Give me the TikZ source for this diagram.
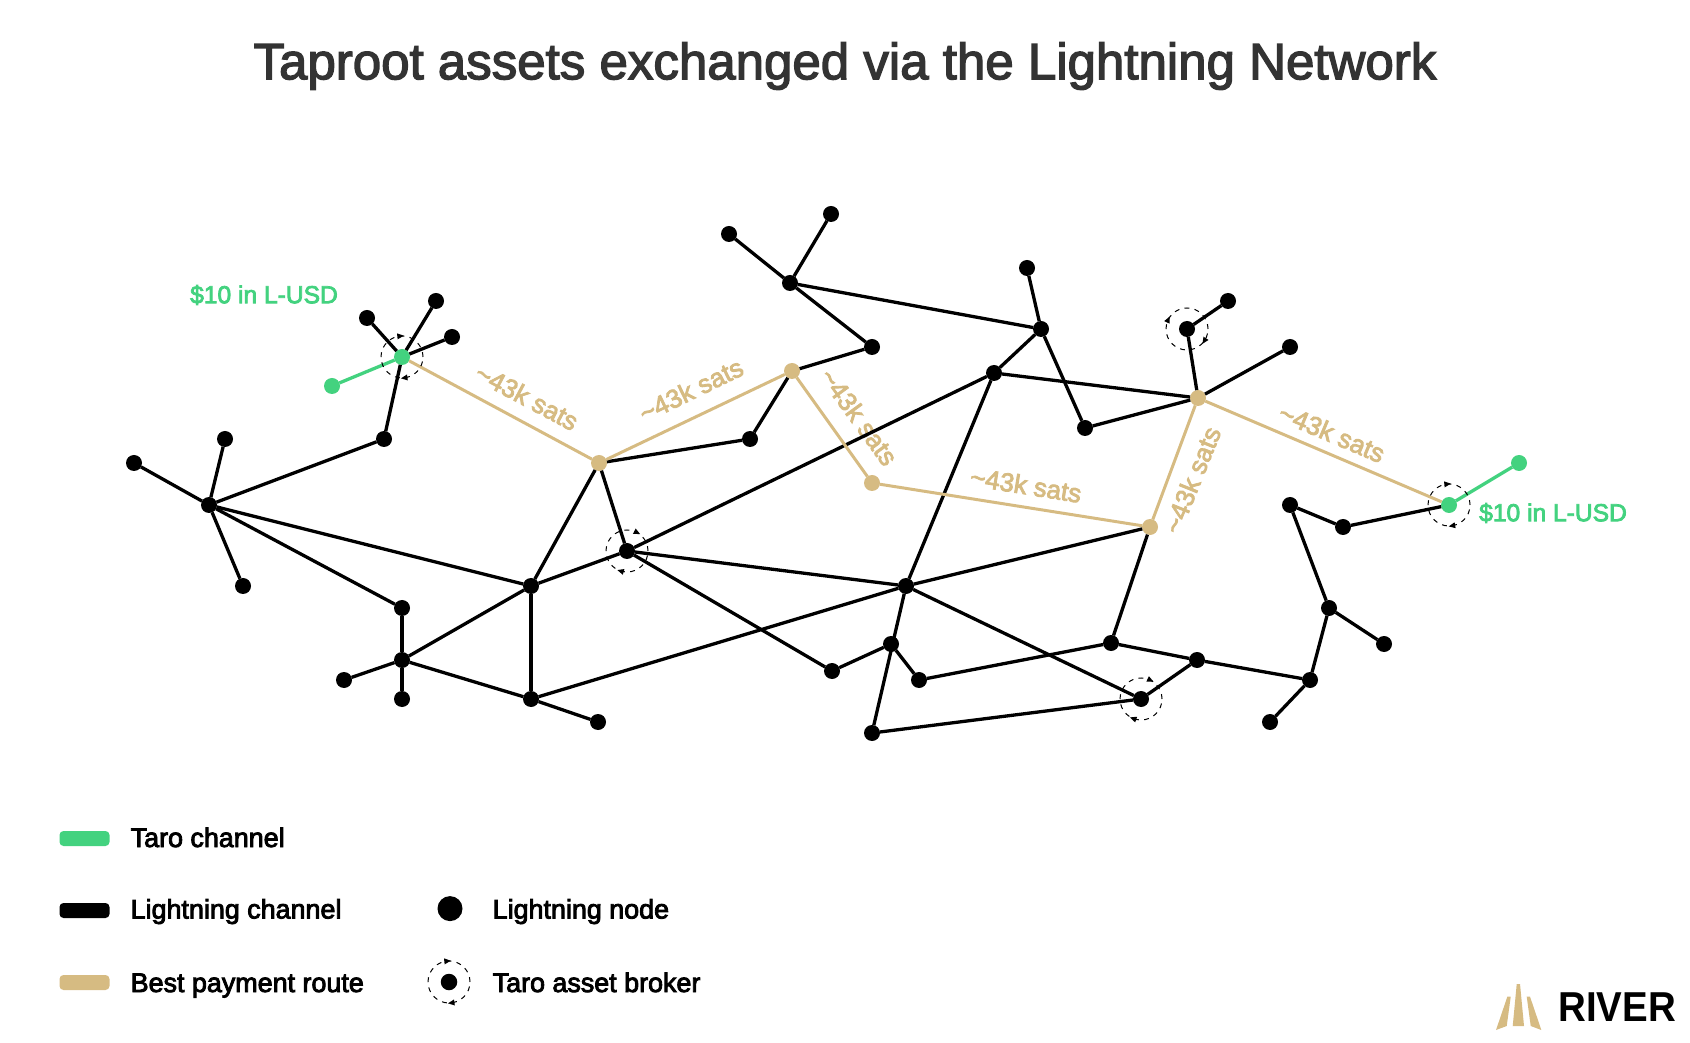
\documentclass[tikz,border=0pt]{standalone}
\usepackage{fontspec}
\usepackage{tikz}
\usepackage{tkz-graph}
\usetikzlibrary{positioning}
\setmainfont{Liberation Sans}
\newfontfamily\labelfont[FakeBold=3.2]{Liberation Sans}
\newfontfamily\titlefont[FakeBold=2.6]{Liberation Sans}
\definecolor{taro}{HTML}{43D27F}
\definecolor{route}{HTML}{D6BB82}
\definecolor{titlegray}{HTML}{333333}
\tikzset{
  VertexStyle/.style={circle,fill=black,draw=none,inner sep=0pt,minimum size=0.16cm},
  EdgeStyle/.style={line width=0.033cm},
  satslabel/.style={text=route,font=\labelfont\fontsize{7.4pt}{9pt}\selectfont},
  usdlabel/.style={text=taro,font=\labelfont\fontsize{7pt}{9pt}\selectfont},
  legendbar/.style={rounded corners=0.04cm,minimum width=0.5cm,minimum height=0.15cm,inner sep=0pt},
  legendtext/.style={anchor=base west,inner sep=0pt,font=\labelfont\fontsize{7.65pt}{9pt}\selectfont},
  brokerring/.style={circle,draw,line width=0.01cm,dash pattern=on 1.4pt off 1.5pt,inner sep=0pt,minimum size=0.42cm},
}
\newcommand{\BrokerRing}[3]{%
  \node[brokerring] (ring#1) at (#1) {};
  \fill[shift={(#1)},rotate=#2] (0.18,0.025) -- (0.24,0.025) -- (0.21,-0.04) -- cycle;
  \fill[shift={(#1)},rotate=#3] (0.18,0.025) -- (0.24,0.025) -- (0.21,-0.04) -- cycle;
}
\begin{document}
\begin{tikzpicture}
%
\useasboundingbox (0,0) rectangle (16.9cm,10.42cm);
%
\node[text=titlegray,font=\titlefont\fontsize{14.52pt}{17pt}\selectfont] (title) at (8.45cm,9.76cm) {Taproot assets exchanged via the Lightning Network};
%
\begin{scope}[yshift=-0.01cm]
\Vertex[NoLabel,x=1.34cm,y=5.80cm]{a1}
\Vertex[NoLabel,x=2.25cm,y=6.04cm]{a2}
\Vertex[NoLabel,x=2.09cm,y=5.38cm]{a3}
\Vertex[NoLabel,x=2.43cm,y=4.57cm]{a4}
\Vertex[NoLabel,x=3.84cm,y=6.04cm]{b1}
\Vertex[NoLabel,x=3.67cm,y=7.25cm]{c1}
\Vertex[NoLabel,x=4.36cm,y=7.42cm]{c2}
\Vertex[NoLabel,x=4.52cm,y=7.06cm]{c3}
\Vertex[NoLabel,x=11.87cm,y=7.14cm]{f1}
\Vertex[NoLabel,x=12.28cm,y=7.42cm]{f2}
\Vertex[NoLabel,x=12.90cm,y=6.96cm]{f3}
\Vertex[NoLabel,x=7.50cm,y=6.04cm]{d1}
\Vertex[NoLabel,x=8.72cm,y=6.96cm]{d2}
\Vertex[NoLabel,x=7.90cm,y=7.60cm]{d3}
\Vertex[NoLabel,x=7.29cm,y=8.09cm]{d4}
\Vertex[NoLabel,x=8.31cm,y=8.29cm]{d5}
\Vertex[NoLabel,x=10.41cm,y=7.14cm]{e1}
\Vertex[NoLabel,x=10.27cm,y=7.75cm]{e2}
\Vertex[NoLabel,x=9.94cm,y=6.70cm]{e3}
\Vertex[NoLabel,x=10.85cm,y=6.15cm]{e4}
\Vertex[NoLabel,x=6.27cm,y=4.92cm]{h1}
\Vertex[NoLabel,x=5.31cm,y=4.57cm]{h2}
\Vertex[NoLabel,x=4.02cm,y=4.35cm]{h3}
\Vertex[NoLabel,x=4.02cm,y=3.83cm]{h4}
\Vertex[NoLabel,x=3.44cm,y=3.63cm]{h5}
\Vertex[NoLabel,x=4.02cm,y=3.44cm]{h6}
\Vertex[NoLabel,x=5.31cm,y=3.44cm]{h7}
\Vertex[NoLabel,x=5.98cm,y=3.21cm]{h8}
\Vertex[NoLabel,x=9.06cm,y=4.57cm]{i1}
\Vertex[NoLabel,x=8.32cm,y=3.72cm]{i2}
\Vertex[NoLabel,x=8.91cm,y=3.99cm]{i3}
\Vertex[NoLabel,x=9.19cm,y=3.63cm]{i4}
\Vertex[NoLabel,x=8.72cm,y=3.10cm]{i5}
\Vertex[NoLabel,x=11.41cm,y=3.44cm]{i6}
\Vertex[NoLabel,x=11.11cm,y=4.00cm]{i7}
\Vertex[NoLabel,x=11.97cm,y=3.83cm]{i8}
\Vertex[NoLabel,x=13.10cm,y=3.63cm]{i9}
\Vertex[NoLabel,x=12.70cm,y=3.21cm]{i10}
\Vertex[NoLabel,x=13.29cm,y=4.35cm]{i11}
\Vertex[NoLabel,x=13.84cm,y=3.99cm]{i12}
\Vertex[NoLabel,x=12.90cm,y=5.38cm]{i13}
\Vertex[NoLabel,x=13.43cm,y=5.16cm]{i14}
%
\begin{scope}[VertexStyle/.append style={fill=route}]
\Vertex[NoLabel,x=5.99cm,y=5.80cm]{r1}
\Vertex[NoLabel,x=7.92cm,y=6.72cm]{r2}
\Vertex[NoLabel,x=8.72cm,y=5.60cm]{r3}
\Vertex[NoLabel,x=11.50cm,y=5.16cm]{r4}
\Vertex[NoLabel,x=11.98cm,y=6.45cm]{r5}
\end{scope}
\begin{scope}[VertexStyle/.append style={fill=taro}]
\Vertex[NoLabel,x=4.02cm,y=6.86cm]{c0}
\Vertex[NoLabel,x=3.32cm,y=6.57cm]{g1}
\Vertex[NoLabel,x=14.49cm,y=5.38cm]{ce}
\Vertex[NoLabel,x=15.19cm,y=5.80cm]{g2}
\end{scope}
%
\node[satslabel,rotate=-28] (sats1) at (5.27cm,6.46cm) {\textasciitilde43k sats};
\node[satslabel,rotate=26] (sats2) at (6.91cm,6.53cm) {\textasciitilde43k sats};
\node[satslabel,rotate=-54] (sats3) at (8.59cm,6.26cm) {\textasciitilde43k sats};
\node[satslabel,rotate=-9] (sats4) at (10.26cm,5.58cm) {\textasciitilde43k sats};
\node[satslabel,rotate=68] (sats5) at (11.92cm,5.63cm) {\textasciitilde43k sats};
\node[satslabel,rotate=-23] (sats6) at (13.32cm,6.10cm) {\textasciitilde43k sats};
\node[usdlabel] (usd1) at (2.64cm,7.48cm) {\$10 in L-USD};
\node[usdlabel] (usd2) at (15.53cm,5.30cm) {\$10 in L-USD};
\end{scope}
%
\Edge[](a1)(a3)
\Edge[](a2)(a3)
\Edge[](a4)(a3)
\Edge[](a3)(b1)
\Edge[](b1)(c0)
\Edge[](c1)(c0)
\Edge[](c2)(c0)
\Edge[](c3)(c0)
\Edge[](a3)(h2)
\Edge[](a3)(h3)
\Edge[](h3)(h4)
\Edge[](h4)(h5)
\Edge[](h4)(h6)
\Edge[](h4)(h7)
\Edge[](h4)(h2)
\Edge[](h2)(h7)
\Edge[](h7)(h8)
\Edge[](h2)(r1)
\Edge[](h2)(h1)
\Edge[](r1)(h1)
\Edge[](h1)(e3)
\Edge[](h1)(i1)
\Edge[](h1)(i2)
\Edge[](i2)(i3)
\Edge[](i1)(i5)
\Edge[](i3)(i4)
\Edge[](i1)(i6)
\Edge[](i1)(e3)
\Edge[](h7)(i1)
\Edge[](i1)(r4)
\Edge[](i4)(i7)
\Edge[](i7)(r4)
\Edge[](i7)(i8)
\Edge[](i8)(i9)
\Edge[](i8)(i6)
\Edge[](i9)(i10)
\Edge[](i9)(i11)
\Edge[](i11)(i12)
\Edge[](i11)(i13)
\Edge[](i13)(i14)
\Edge[](i14)(ce)
\Edge[](i5)(i6)
\Edge[](e3)(r5)
\Edge[](e3)(e1)
\Edge[](e1)(e2)
\Edge[](e1)(e4)
\Edge[](e4)(r5)
\Edge[](e1)(d3)
\Edge[](d3)(d4)
\Edge[](d3)(d5)
\Edge[](d3)(d2)
\Edge[](d2)(r2)
\Edge[](r2)(d1)
\Edge[](d1)(r1)
\Edge[](f1)(f2)
\Edge[](f1)(r5)
\Edge[](f3)(r5)
%
\begin{scope}[EdgeStyle/.append style={line width=0.03cm,color=route}]
\Edge[](c0)(r1)
\Edge[](r1)(r2)
\Edge[](r2)(r3)
\Edge[](r3)(r4)
\Edge[](r4)(r5)
\Edge[](r5)(ce)
\end{scope}
\begin{scope}[EdgeStyle/.append style={color=taro}]
\Edge[](g1)(c0)
\Edge[](ce)(g2)
\end{scope}
%
\BrokerRing{c0}{96}{278}
\BrokerRing{f1}{155}{-33}
\BrokerRing{ce}{96}{280}
\BrokerRing{h1}{63}{254}
\BrokerRing{i6}{65}{250}
%
\node[legendbar,fill=taro] (bar1) at (0.845cm,2.035cm) {};
\node[legendbar,fill=black] (bar2) at (0.845cm,1.315cm) {};
\node[legendbar,fill=route] (bar3) at (0.845cm,0.595cm) {};
\node[legendtext] (leg1) at (1.30cm,1.95cm) {Taro channel};
\node[legendtext] (leg2) at (1.30cm,1.235cm) {Lightning channel};
\node[legendtext] (leg3) at (1.30cm,0.50cm) {Best payment route};
\node[legendtext] (leg4) at (4.92cm,1.235cm) {Lightning node};
\node[legendtext] (leg5) at (4.92cm,0.50cm) {Taro asset broker};
\node[circle,fill=black,inner sep=0pt,minimum size=0.25cm] (dot1) at (4.50cm,1.334cm) {};
\node[circle,fill=black,inner sep=0pt,minimum size=0.165cm] (dot2) at (4.49cm,0.60cm) {};
\BrokerRing{dot2}{96}{278}
%
\fill[route] (15.127,0.16) -- (15.24,0.16) -- (15.20,0.58) -- (15.167,0.58) -- cycle;
\fill[route] (14.96,0.12) -- (15.067,0.16) -- (15.107,0.453) -- (15.073,0.453) -- cycle;
\fill[route] (15.307,0.16) -- (15.413,0.12) -- (15.30,0.453) -- (15.267,0.453) -- cycle;
\node[xscale=0.92,inner sep=0pt,font=\fontsize{11.9pt}{13pt}\selectfont\bfseries] (logo) at (16.17cm,0.35cm) {RIVER};
%
\end{tikzpicture}
\end{document}
